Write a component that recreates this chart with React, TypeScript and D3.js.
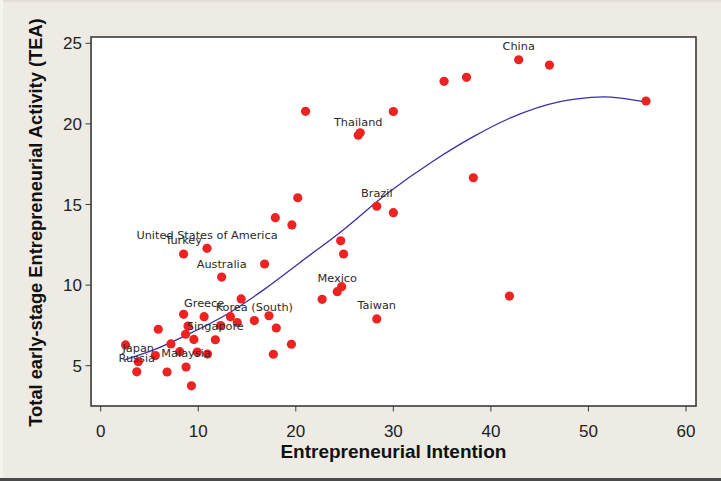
import React from "react";
import * as d3 from "d3";

// Entrepreneurial Intention (x) and TEA (y), one entry per country
const intention = [
  42.85, 46.0, 35.2, 37.5, 55.9, 38.2, 21.0, 30.0, 26.4, 26.6,
  28.3, 30.0, 20.2, 17.9, 19.6, 24.6, 24.9, 10.9, 8.5, 16.8,
  12.4, 24.7, 24.25, 22.7, 41.9, 28.3, 14.4, 8.5, 10.6, 13.3,
  17.25, 15.75, 14.0, 18.0, 5.9, 8.95, 12.3, 8.7, 9.55, 11.75,
  7.2, 2.55, 19.55, 5.6, 8.1, 9.9, 10.95, 17.7, 3.85, 3.7,
  6.8, 8.75, 9.3,
];
const tea = [
  23.98, 23.65, 22.64, 22.89, 21.42, 16.66, 20.78, 20.77, 19.3, 19.45,
  14.89, 14.49, 15.42, 14.18, 13.73, 12.75, 11.93, 12.28, 11.93, 11.31,
  10.5, 9.9, 9.59, 9.12, 9.32, 7.9, 9.14, 8.19, 8.04, 8.04,
  8.1, 7.8, 7.68, 7.34, 7.26, 7.46, 7.49, 6.95, 6.63, 6.61,
  6.35, 6.29, 6.33, 5.63, 5.87, 5.85, 5.72, 5.71, 5.25, 4.62,
  4.61, 4.92, 3.75,
];
const countryLabels = [
  "China", "", "", "", "", "", "", "", "Thailand", "",
  "Brazil", "", "", "", "", "", "", "United States of America", "Turkey", "",
  "Australia", "", "Mexico", "", "", "Taiwan", "", "", "Greece", "",
  "", "Korea (South)", "", "", "", "", "", "", "", "Singapore",
  "", "", "", "", "", "", "", "", "Japan", "Russia",
  "", "Malaysia", "",
];

// fitted curve
const fitX = [2.5, 5.5, 8.8, 12.9, 16.8, 20.4, 24.6, 29.3, 34.1, 38.2, 42.0, 47.1, 48.8, 51.5, 55.9];
const fitY = [5.38, 6.0, 6.9, 8.18, 9.75, 11.39, 13.3, 15.65, 17.7, 19.21, 20.37, 21.38, 21.55, 21.68, 21.35];

const xTicks = [0, 10, 20, 30, 40, 50, 60];
const yTicks = [5, 10, 15, 20, 25];

const W = 721;
const H = 481;

export default function App() {
  const x = d3.scaleLinear().domain([0, 60]).range([100.7, 686]);
  const y = d3.scaleLinear().domain([5, 25]).range([365.7, 43.3]);

  const left = x(-0.99);
  const right = 696;
  const top = 37;
  const bottom = 406;

  const line = d3
    .line<number>()
    .x((_, i) => x(fitX[i]))
    .y((_, i) => y(fitY[i]))
    .curve(d3.curveMonotoneX);

  const sans = "'Liberation Sans', Arial, sans-serif";
  const labelFont = "'DejaVu Sans', Verdana, sans-serif";

  return (
    <svg
      width={W}
      height={H}
      style={{ position: "absolute", left: 0, top: 0 }}
      xmlns="http://www.w3.org/2000/svg"
    >
      <rect x={0} y={0} width={W} height={H} fill="#EDEBE4" />
      <rect x={0} y={0} width={W} height={2} fill="#E2DED6" />
      <rect x={0} y={0} width={3} height={H} fill="#F5F4EF" />
      <rect x={0} y={478} width={W} height={3} fill="#4A4A4A" />

      <rect x={left} y={top} width={right - left} height={bottom - top} fill="#FFFFFF" stroke="#3A3A3A" strokeWidth={1.6} />

      {xTicks.map((t) => (
        <g key={"xt" + t}>
          <line x1={x(t)} x2={x(t)} y1={bottom} y2={bottom + 5.5} stroke="#3A3A3A" strokeWidth={1} />
          <text x={x(t)} y={436.5} textAnchor="middle" fontFamily={sans} fontSize={17} fill="#222">
            {t}
          </text>
        </g>
      ))}
      {yTicks.map((t) => (
        <g key={"yt" + t}>
          <line x1={left - 5.5} x2={left} y1={y(t)} y2={y(t)} stroke="#3A3A3A" strokeWidth={1} />
          <text x={82} y={y(t) + 6} textAnchor="end" fontFamily={sans} fontSize={17} fill="#222">
            {t}
          </text>
        </g>
      ))}

      <text x={393.4} y={458.3} textAnchor="middle" fontFamily={sans} fontSize={19} fontWeight="bold" fill="#111">
        Entrepreneurial Intention
      </text>
      <text
        transform={`translate(42,222.5) rotate(-90)`}
        textAnchor="middle"
        fontFamily={sans}
        fontSize={18.3}
        fontWeight="bold"
        fill="#111"
      >
        Total early-stage Entrepreneurial Activity (TEA)
      </text>

      <path d={line(fitX) || ""} fill="none" stroke="#3A2FA6" strokeWidth={1.3} />

      {intention.map((v, i) => (
        <circle key={"p" + i} cx={x(v)} cy={y(tea[i])} r={4.6} fill="#EC2320" />
      ))}

      {intention.map((v, i) =>
        countryLabels[i] ? (
          <text
            key={"l" + i}
            x={x(v)}
            y={y(tea[i]) - 9.5}
            textAnchor="middle"
            fontFamily={labelFont}
            fontSize={11.3}
            fill="#2a2a2a"
          >
            {countryLabels[i]}
          </text>
        ) : null
      )}
    </svg>
  );
}
